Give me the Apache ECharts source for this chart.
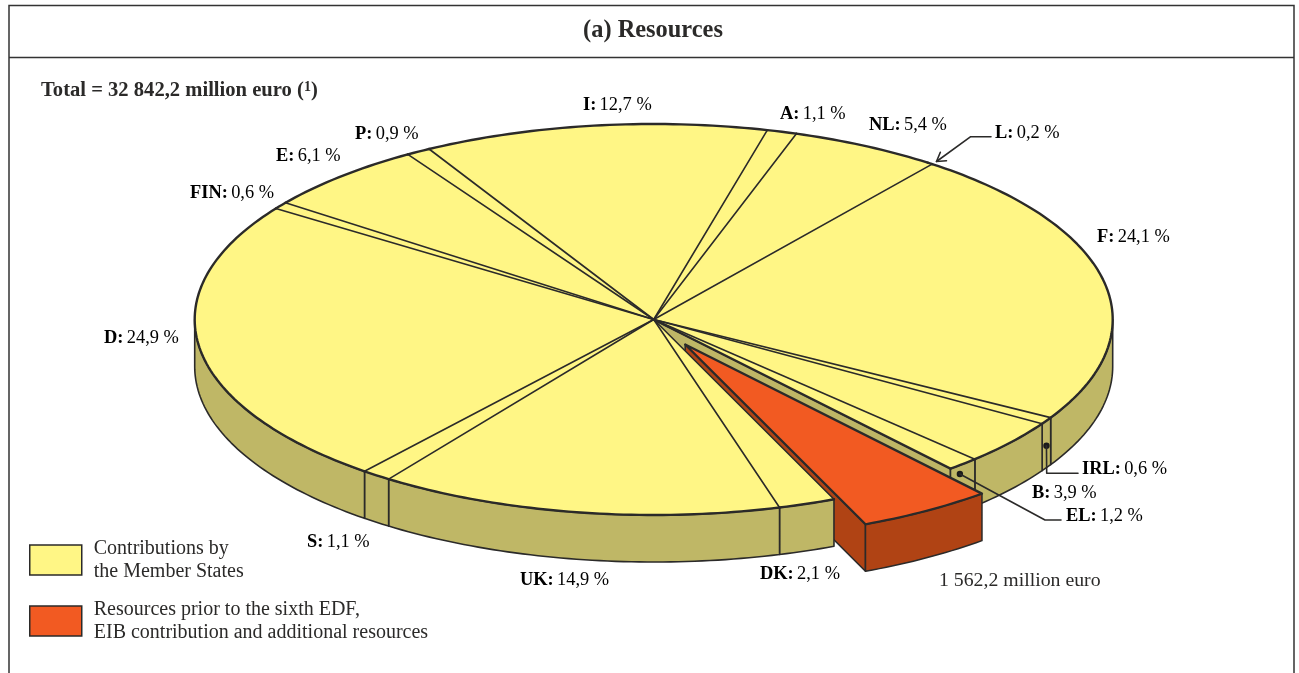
<!DOCTYPE html>
<html><head><meta charset="utf-8">
<style>html,body{margin:0;padding:0;background:#fff}#c{width:1299px;height:673px}</style>
<script src="https://cdn.jsdelivr.net/npm/echarts@6/dist/echarts.min.js"></script>
</head><body><div id="c"></div>
<script>
// ---- data (clockwise, starting at the I slice) ----
const categories = ['I','A','NL','L','F','IRL','B','EL','DK','UK','S','D','FIN','E','P'];
const shares = [12.7,1.1,5.4,0.2,24.1,0.6,3.9,1.2,2.1,14.9,1.1,24.9,0.6,6.1,0.9];
const totalMillion = 32842.2;
const otherResourcesMillion = 1562.2;
const titleText = '(a) Resources';
const totalText = 'Total = 32 842,2 million euro ({s|1})';
const otherResourcesText = '1 562,2 million euro';
const legendMembers = 'Contributions by\nthe Member States';
const legendOther = 'Resources prior to the sixth EDF,\nEIB contribution and additional resources';

// ---- layout ----
const CX=653.7, CY=319.5, RX=459, RY=195.5, DEPTH=47, START=119.3;
const EXPLODE=[31.5,25];
const labelAnchors={I:[583,105],A:[780,114],NL:[869,125],L:[995,133],F:[1097,237],IRL:[1082,469],B:[1032,493],EL:[1066,516],
  DK:[760,574],UK:[520,580],S:[307,542],D:[104,338],FIN:[190,193],E:[276,156],P:[355,134]};
const leaders=[
  {cat:'IRL',wall:25,dx:0,path:[[1046.7,473.3],[1078,473.3]],dot:true},
  {cat:'EL',wall:10,dx:-3,path:[[1045,520],[1061,520]],dot:true},
  {cat:'L',wall:0,dx:6,path:null,tail:[[970.7,136.7],[991,136.7]]}
];
const INK='#2b2a29', YEL='#fff685', OLV='#bfb766', RED='#f25a22', DRED='#b04314';
const FONT='"Liberation Serif"';

const otherShare=otherResourcesMillion/(totalMillion-otherResourcesMillion)*100;
const grand=shares.reduce((a,b)=>a+b,0)+otherShare;
const rad=d=>d*Math.PI/180;
const rim=(d,ox=0,oy=0)=>[CX+RX*Math.cos(rad(d))+ox,CY-RY*Math.sin(rad(d))+oy];
const arc=(a0,a1,ox=0,oy=0)=>{const n=Math.max(2,Math.ceil(Math.abs(a0-a1)));const p=[];
  for(let i=0;i<=n;i++)p.push(rim(a0+(a1-a0)*i/n,ox,oy));return p;};
let ang=START; const slices=[]; let other=null;
categories.forEach((c,i)=>{
  const a0=ang,a1=ang-shares[i]/grand*360; slices.push({c,a0,a1,v:shares[i]}); ang=a1;
  if(c==='EL'){other={a0:ang,a1:ang-otherShare/grand*360}; ang=other.a1;}
});
const sliceOf=c=>slices.find(s=>s.c===c);

const poly=(points,fill,stroke,lw,extra)=>Object.assign({type:'polygon',shape:{points},style:{fill,stroke,lineWidth:lw,lineJoin:'round'}},extra||{});
const line=(points,stroke,lw)=>({type:'polyline',shape:{points},style:{fill:null,stroke,lineWidth:lw,lineCap:'round',lineJoin:'round'}});

const base={type:'custom',coordinateSystem:'none',silent:true,animation:false,clip:false};
const wallPts=(a0,a1,ox=0,oy=0)=>{const t=arc(a0,a1,ox,oy);return t.concat(t.map(p=>[p[0],p[1]+DEPTH]).reverse());};

const option={
  animation:false,
  backgroundColor:'#fff',
  title:{text:titleText,left:648,top:14,textAlign:'center',
    textStyle:{fontFamily:FONT,fontWeight:'bold',fontSize:24.4,color:INK}},
  legend:{orient:'vertical',left:29,top:531,itemWidth:52,itemHeight:30,itemGap:3,padding:0,selectedMode:false,
    textStyle:{fontFamily:FONT,fontSize:20,color:INK,lineHeight:23,padding:[0,0,12,7]},
    data:[
      {name:legendMembers,icon:'rect',itemStyle:{color:YEL,borderColor:INK,borderWidth:1.5}},
      {name:legendOther,icon:'rect',itemStyle:{color:RED,borderColor:INK,borderWidth:1.5}}
    ]},
  graphic:[
    {type:'polyline',silent:true,shape:{points:[[9,673],[9,5.5],[1294,5.5],[1294,673]]},style:{fill:null,stroke:'#333',lineWidth:1.5}},
    {type:'line',silent:true,shape:{x1:9,y1:57.5,x2:1294,y2:57.5},style:{stroke:'#333',lineWidth:1.5}},
    {type:'text',silent:true,x:41,y:91,style:{text:totalText,fontFamily:FONT,fontWeight:'bold',fontSize:20.6,fill:INK,verticalAlign:'middle',
      rich:{s:{fontFamily:FONT,fontWeight:'bold',fontSize:14,color:INK,verticalAlign:'top'}}}},
    {type:'text',silent:true,x:939,y:581,style:{text:otherResourcesText,fontFamily:FONT,fontSize:19.8,fill:INK,verticalAlign:'middle'}}
  ],
  series:[
    // inner cut face left open by the detached slice
    Object.assign({},base,{name:'cut face',z:1,data:[[otherShare]],renderItem:()=>{
      const r=rim(other.a0);
      return poly([[CX,CY],r,[r[0],r[1]+DEPTH],[CX,CY+DEPTH]],OLV,INK,1.5);
    }}),
    // side face of detached slice
    Object.assign({},base,{name:'other side',z:2,data:[[otherShare]],renderItem:()=>{
      const r=rim(other.a1,EXPLODE[0],EXPLODE[1]), c=[CX+EXPLODE[0],CY+EXPLODE[1]];
      return poly([c,r,[r[0],r[1]+DEPTH],[c[0],c[1]+DEPTH]],DRED,INK,1.6);
    }}),
    // outer walls of member slices
    Object.assign({},base,{name:'member walls',z:3,data:slices.map(s=>({name:s.c,value:[s.v]})),renderItem:(p)=>{
      const s=slices[p.dataIndex], hi=Math.min(s.a0,0), lo=Math.max(s.a1,-180);
      if(hi<=lo) return {type:'group',children:[]};
      return poly(wallPts(hi,lo),OLV,INK,1.6);
    }}),
    // top faces of member slices
    Object.assign({},base,{name:legendMembers,z:4,itemStyle:{color:YEL},data:slices.map(s=>({name:s.c,value:[s.v]})),renderItem:(p)=>{
      const s=slices[p.dataIndex];
      return poly([[CX,CY]].concat(arc(s.a0,s.a1)),YEL,YEL,0.4);
    }}),
    // rim + dividers of member slices
    Object.assign({},base,{name:'dividers',z:5,data:slices.map(s=>({name:s.c,value:[s.v]})),renderItem:(p)=>{
      const s=slices[p.dataIndex], ch=[line(arc(s.a0,s.a1),INK,2.4)];
      if(s.c!=='L') ch.push(line([[CX,CY],rim(s.a0)],INK,1.6));
      return {type:'group',children:ch};
    }}),
    // detached slice, top + front wall
    Object.assign({},base,{name:legendOther,z:6,itemStyle:{color:RED},data:[[otherShare]],renderItem:()=>{
      const [ox,oy]=EXPLODE;
      return {type:'group',children:[
        poly(wallPts(other.a0,other.a1,ox,oy),DRED,INK,1.5),
        poly([[CX+ox,CY+oy]].concat(arc(other.a0,other.a1,ox,oy)),RED,INK,2.3)
      ]};
    }}),
    // EL-side cut line
    Object.assign({},base,{name:'cut edge',z:6,data:[[otherShare]],renderItem:()=>line([[CX,CY],rim(other.a0)],INK,2.3)}),
    // leaders
    Object.assign({},base,{name:'leaders',z:7,data:leaders.map(l=>[sliceOf(l.cat).v]),renderItem:(p)=>{
      const l=leaders[p.dataIndex], s=sliceOf(l.cat), mid=(s.a0+s.a1)/2, ch=[];
      if(l.dot){
        const d=rim(mid,l.dx,l.wall);
        ch.push({type:'circle',shape:{cx:d[0],cy:d[1],r:3.2},style:{fill:'#1a1a1a'}});
        ch.push(line([d].concat(l.path),INK,1.6));
      } else {
        const tip=[936.5,161.5], e=l.tail[0], ln=Math.hypot(e[0]-tip[0],e[1]-tip[1]);
        const ux=(e[0]-tip[0])/ln, uy=(e[1]-tip[1])/ln, c=Math.cos(0.55), si=Math.sin(0.55), L=10;
        const a=[tip[0]+L*(ux*c-uy*si),tip[1]+L*(ux*si+uy*c)], b=[tip[0]+L*(ux*c+uy*si),tip[1]+L*(-ux*si+uy*c)];
        ch.push(line([tip].concat(l.tail),INK,1.6));
        ch.push(line([a,tip,b],INK,1.6));
      }
      return {type:'group',children:ch};
    }}),
    // labels
    Object.assign({},base,{name:'labels',z:8,data:slices.map(s=>({name:s.c,value:[s.v]})),renderItem:(p)=>{
      const s=slices[p.dataIndex], pos=labelAnchors[s.c];
      const val=s.v.toFixed(1).replace('.',',')+' %';
      return {type:'text',x:pos[0],y:pos[1],style:{
        text:'{b|'+s.c+':} {n|'+val+'}',verticalAlign:'middle',align:'left',
        rich:{b:{fontFamily:FONT,fontWeight:'bold',fontSize:18.4,color:INK},n:{fontFamily:FONT,fontSize:18.4,color:INK}}
      }};
    }})
  ]
};
const chart=echarts.init(document.getElementById('c'),null,{renderer:'canvas'});
chart.setOption(option);
</script></body></html>
